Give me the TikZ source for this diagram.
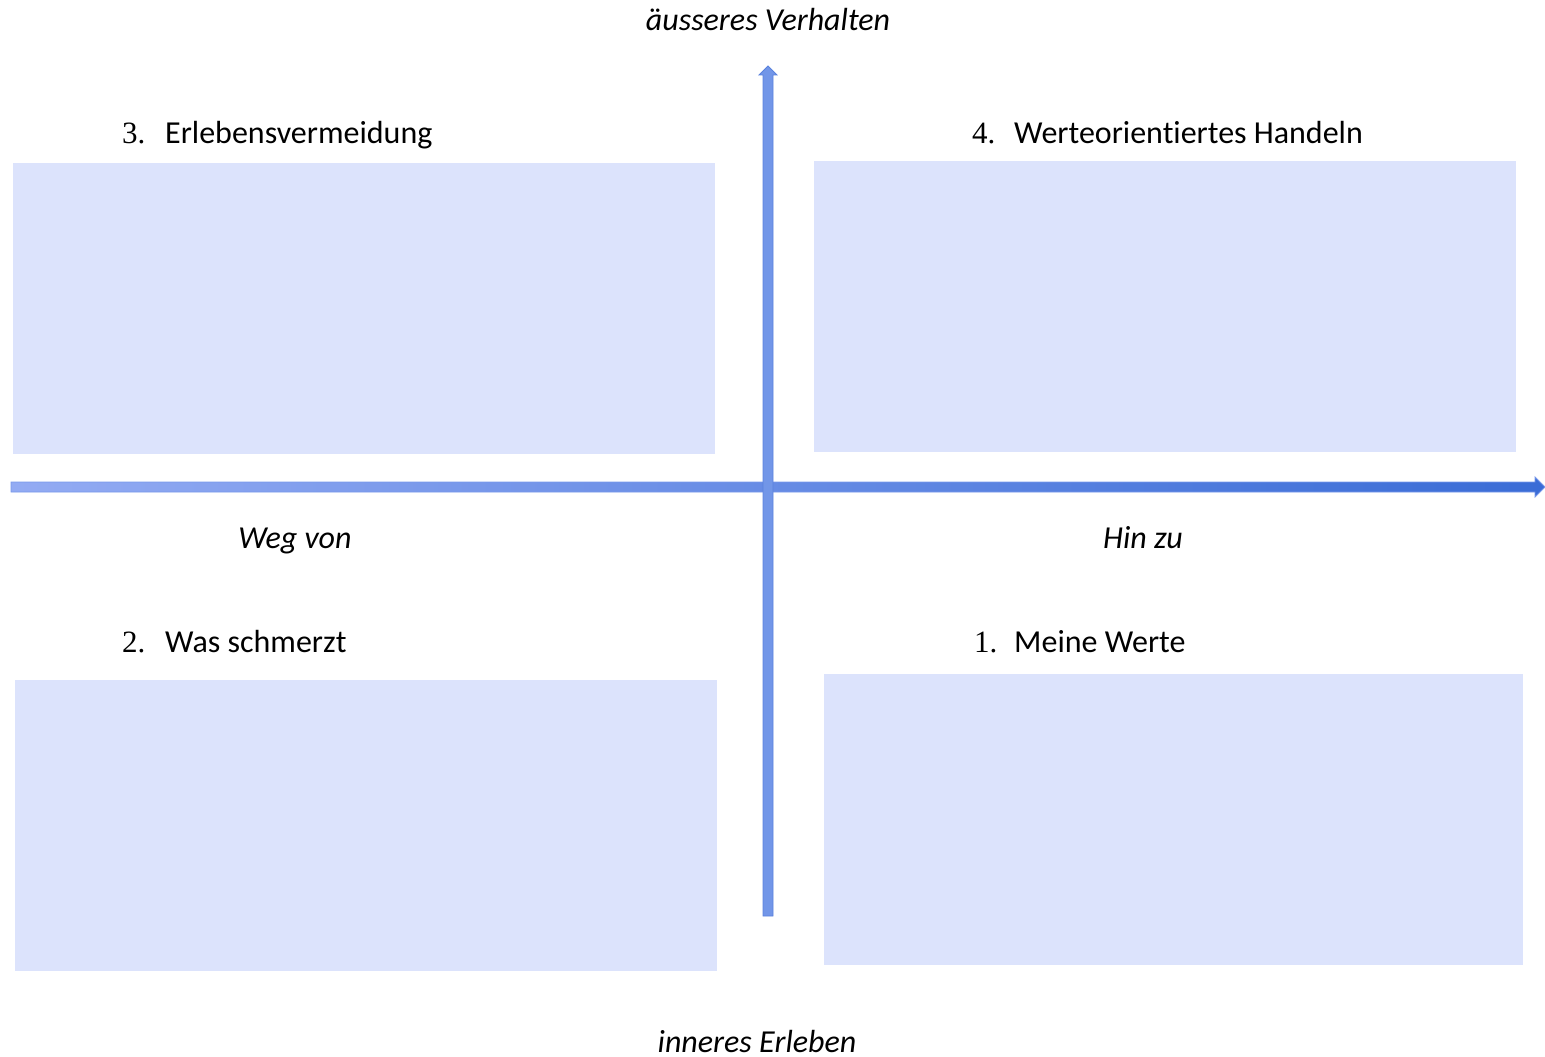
\documentclass[tikz,border=0pt]{standalone}
\usepackage{fontspec}
\usetikzlibrary{calc}
\setmainfont{Carlito}[Ligatures={NoCommon}]
\newfontfamily\numfont{Liberation Serif}
\begin{document}
\begin{tikzpicture}[x=1pt,y=-1pt,
  quad/.style={fill=boxfill,draw=none},
  title/.style={anchor=base west,inner sep=0pt,font=\fontsize{32}{36}\selectfont,text=black},
  num/.style={anchor=base west,inner sep=0pt,font=\numfont\fontsize{31}{34}\selectfont,text=black},
  axislabel/.style={anchor=base,inner sep=0pt,font=\itshape\fontsize{32}{36}\selectfont,text=black}]
\definecolor{boxfill}{HTML}{DCE3FC}
\definecolor{hleft}{HTML}{93ABF3}
\definecolor{hright}{HTML}{3A6CD6}
\definecolor{vfill}{HTML}{7296E8}
\definecolor{vline}{HTML}{5A82DD}
\useasboundingbox (0,0) rectangle (1545,1057);
% quadrant boxes
\fill[quad] (13,163) rectangle (715,454);
\fill[quad] (814,161) rectangle (1516,452);
\fill[quad] (15,680) rectangle (717,971);
\fill[quad] (824,674) rectangle (1523,965);
% axes
\coordinate (hs) at (11,487);
\coordinate (he) at (1545,487);
\coordinate (vs) at (768,916);
\coordinate (ve) at (768,66);
\path[left color=hleft,right color=hright,draw=hleft!70!hright,line width=0.8pt]
  ($(hs)+(0,-5)$) -- ($(he)+(-10,-5)$) -- ($(he)+(-10,-10)$) -- (he) -- ($(he)+(-10,10)$) -- ($(he)+(-10,5)$) -- ($(hs)+(0,5)$) -- cycle;
\path[fill=vfill,draw=vline,line width=0.8pt]
  ($(vs)+(-5,0)$) -- ($(ve)+(-5,9)$) -- ($(ve)+(-9,9)$) -- (ve) -- ($(ve)+(9,9)$) -- ($(ve)+(5,9)$) -- ($(vs)+(5,0)$) -- cycle;
% axis labels
\node[axislabel] (top) at (768,31) {äusseres Verhalten};
\node[axislabel] (bottom) at (757,1052) {inneres Erleben};
\node[axislabel] (left) at (295,548) {Weg von};
\node[axislabel] (right) at (1143,548) {Hin zu};
% quadrant titles
\node[num] (n3) at (122,143) {3.};
\node[title] (t3) at (165,143) {Erlebensvermeidung};
\node[num] (n4) at (972,143) {4.};
\node[title] (t4) at (1014,143) {Werteorientiertes Handeln};
\node[num] (n2) at (122,652) {2.};
\node[title] (t2) at (165,652) {Was schmerzt};
\node[num] (n1) at (974,652) {1.};
\node[title] (t1) at (1014,652) {Meine Werte};
\end{tikzpicture}
\end{document}
